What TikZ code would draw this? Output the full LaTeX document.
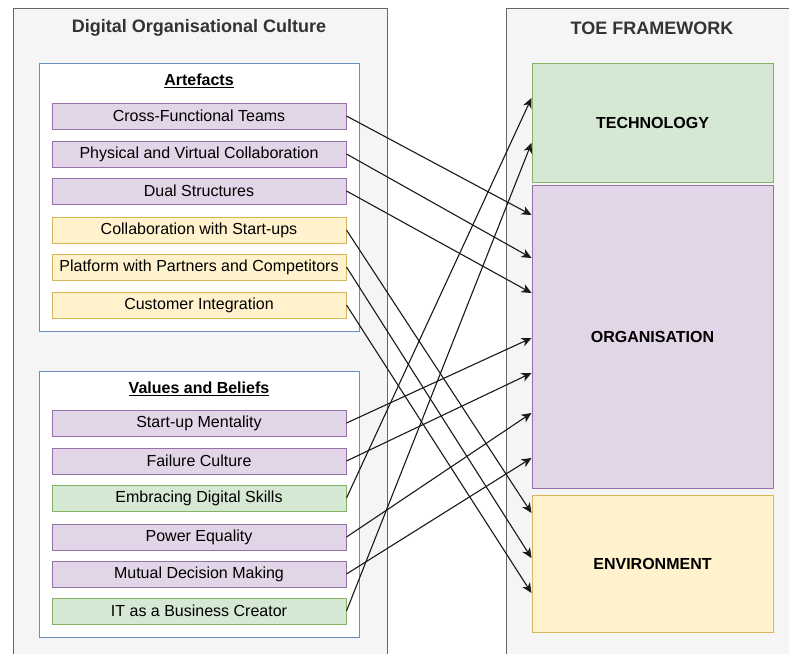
\documentclass[tikz,border=0pt]{standalone}
\usepackage{fontspec}
\setmainfont{Liberation Sans}
\usetikzlibrary{arrows.meta}

\definecolor{purpleFill}{HTML}{E1D5E7}
\definecolor{purpleLine}{HTML}{9673A6}
\definecolor{yellowFill}{HTML}{FFF2CC}
\definecolor{yellowLine}{HTML}{D6B656}
\definecolor{greenFill}{HTML}{D5E8D4}
\definecolor{greenLine}{HTML}{82B366}
\definecolor{panelFill}{HTML}{F5F5F5}
\definecolor{panelLine}{HTML}{666666}
\definecolor{groupLine}{HTML}{6C8EBF}
\definecolor{titleText}{HTML}{333333}

\tikzset{
  panel/.style={draw=panelLine, fill=panelFill, line width=1.2pt, anchor=north west, inner sep=0pt},
  group/.style={draw=groupLine, fill=white, line width=0.8pt, anchor=north west, inner sep=0pt},
  item/.style={minimum width=294pt, minimum height=26pt, inner sep=0pt, line width=1pt,
    font=\fontsize{16}{19}\selectfont},
  pitem/.style={item, draw=purpleLine, fill=purpleFill},
  yitem/.style={item, draw=yellowLine, fill=yellowFill},
  gitem/.style={item, draw=greenLine, fill=greenFill},
  pillar/.style={minimum width=241pt, inner sep=0pt, line width=1pt,
    font=\bfseries\fontsize{16}{19}\selectfont},
  paneltitle/.style={font=\bfseries\fontsize{18}{22}\selectfont, text=titleText, inner sep=0pt},
  grouptitle/.style={font=\bfseries\fontsize{16}{19}\selectfont, inner sep=0pt},
  arr/.style={-{Stealth[length=10pt, width=9pt, inset=3pt]}, line width=1.1pt, draw=black!90},
}

\begin{document}
\begin{tikzpicture}[x=1pt, y=-1pt]
\useasboundingbox (0,0) rectangle (789,653);
\clip (0,0) rectangle (789,653);

% two outer panels
\node[panel, minimum width=374pt, minimum height=680pt] (culture) at (13,8) {};
\node[panel, minimum width=300pt, minimum height=680pt] (toe) at (506,8) {};
\node[paneltitle] (cultureTitle) at (199,28) {Digital Organisational Culture};
\node[paneltitle] (toeTitle) at (652,28) {TOE FRAMEWORK};

% groups inside the culture panel
\node[group, minimum width=320pt, minimum height=268pt] (artefacts) at (39,63) {};
\node[group, minimum width=320pt, minimum height=266pt] (values) at (39,371) {};
\node[grouptitle] (artefactsTitle) at (199,81) {\underline{Artefacts}};
\node[grouptitle] (valuesTitle) at (199,389) {\underline{Values and Beliefs}};

% artefacts
\node[pitem] (cft) at (199,116) {Cross-Functional Teams};
\node[pitem] (pvc) at (199,154) {Physical and Virtual Collaboration};
\node[pitem] (dual) at (199,191) {Dual Structures};
\node[yitem] (startups) at (199,230) {Collaboration with Start-ups};
\node[yitem] (platform) at (199,267) {Platform with Partners and Competitors};
\node[yitem] (customer) at (199,305) {Customer Integration};

% values and beliefs
\node[pitem] (mentality) at (199,423) {Start-up Mentality};
\node[pitem] (failure) at (199,461) {Failure Culture};
\node[gitem] (skills) at (199,498) {Embracing Digital Skills};
\node[pitem] (equality) at (199,537) {Power Equality};
\node[pitem] (decision) at (199,574) {Mutual Decision Making};
\node[gitem] (creator) at (199,611) {IT as a Business Creator};

% TOE pillars
\node[pillar, draw=greenLine, fill=greenFill, minimum height=119pt] (tech) at (652.5,122.5) {TECHNOLOGY};
\node[pillar, draw=purpleLine, fill=purpleFill, minimum height=303pt] (org) at (652.5,336.5) {ORGANISATION};
\node[pillar, draw=yellowLine, fill=yellowFill, minimum height=137pt] (env) at (652.5,563.5) {ENVIRONMENT};

% links from culture elements to TOE pillars
\draw[arr] (cft.east) -- (org.west |- 0,215);
\draw[arr] (pvc.east) -- (org.west |- 0,258);
\draw[arr] (dual.east) -- (org.west |- 0,293);
\draw[arr] (startups.east) -- (env.west |- 0,513);
\draw[arr] (platform.east) -- (env.west |- 0,558);
\draw[arr] (customer.east) -- (env.west |- 0,593);
\draw[arr] (mentality.east) -- (org.west |- 0,338);
\draw[arr] (failure.east) -- (org.west |- 0,373);
\draw[arr] (skills.east) -- (tech.west |- 0,98);
\draw[arr] (equality.east) -- (org.west |- 0,413);
\draw[arr] (decision.east) -- (org.west |- 0,458);
\draw[arr] (creator.east) -- (tech.west |- 0,143);
\end{tikzpicture}
\end{document}
